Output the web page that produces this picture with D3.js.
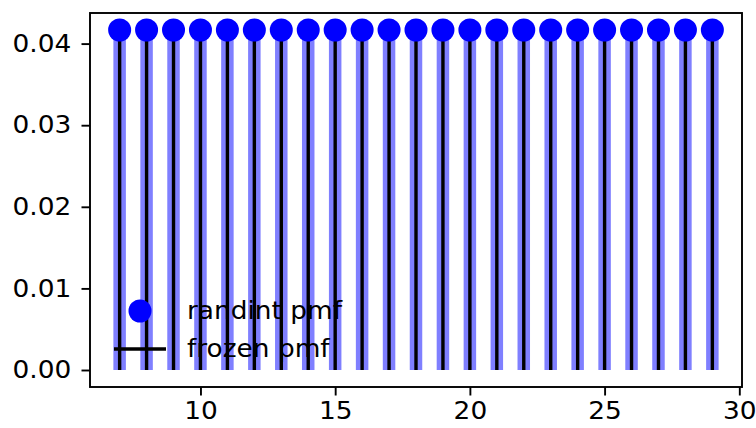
<!DOCTYPE html>
<html>
<head>
<meta charset="utf-8">
<script src="https://cdn.jsdelivr.net/npm/d3@7"></script>
<style>
  html, body { margin: 0; padding: 0; background: #fff; }
  svg { display: block; font-family: "DejaVu Sans", sans-serif; }
</style>
</head>
<body>
<svg id="chart" width="756" height="428"></svg>
<script>
// ---- data ----
const xValues = [7, 8, 9, 10, 11, 12, 13, 14, 15, 16, 17, 18, 19, 20, 21, 22, 23, 24, 25, 26, 27, 28, 29];
const pmfValues = [0.041667, 0.041667, 0.041667, 0.041667, 0.041667, 0.041667, 0.041667, 0.041667,
  0.041667, 0.041667, 0.041667, 0.041667, 0.041667, 0.041667, 0.041667, 0.041667, 0.041667,
  0.041667, 0.041667, 0.041667, 0.041667, 0.041667, 0.041667];
const frozenValues = pmfValues.slice();
const xTicks = [10, 15, 20, 25, 30];
const yTicks = [0.00, 0.01, 0.02, 0.03, 0.04];
const legendLabels = ["randint pmf", "frozen pmf"];

// ---- layout ----
const mLeft = 90, mRight = 742, mTop = 13, mBottom = 387;
const fontSize = 24;
const stretch = 1.1;

const svg = d3.select("#chart");

const xExt = d3.extent(xValues);
const xPad = (xExt[1] - xExt[0]) * 0.05;
const x = d3.scaleLinear().domain([xExt[0] - xPad, xExt[1] + xPad]).range([mLeft, mRight]);
const yMax = d3.max(pmfValues);
const yPad = yMax * 0.05;
const y = d3.scaleLinear().domain([0 - yPad, yMax + yPad]).range([mBottom, mTop]);

const idx = d3.range(xValues.length);

// blue wide vlines (alpha 0.5)
svg.append("g").selectAll("line").data(idx).join("line")
  .attr("x1", i => x(xValues[i])).attr("x2", i => x(xValues[i]))
  .attr("y1", y(0)).attr("y2", i => y(pmfValues[i]))
  .attr("stroke", "#0000ff").attr("stroke-opacity", 0.5).attr("stroke-width", 12.5);

// black frozen vlines
svg.append("g").selectAll("line").data(idx).join("line")
  .attr("x1", i => x(xValues[i])).attr("x2", i => x(xValues[i]))
  .attr("y1", y(0)).attr("y2", i => y(frozenValues[i]))
  .attr("stroke", "#000").attr("stroke-width", 3.4);

// blue dots
svg.append("g").selectAll("circle").data(idx).join("circle")
  .attr("cx", i => x(xValues[i])).attr("cy", i => y(pmfValues[i]))
  .attr("r", 11.5).attr("fill", "#0000ff");

// axes
const xAxis = d3.axisBottom(x).tickValues(xTicks).tickFormat(d3.format("d")).tickSize(8.5).tickPadding(6);
const yAxis = d3.axisLeft(y).tickValues(yTicks).tickFormat(d3.format(".2f")).tickSize(8.5).tickPadding(8.5);

const gx = svg.append("g").attr("transform", `translate(0,${mBottom})`).call(xAxis);
const gy = svg.append("g").attr("transform", `translate(${mLeft},0)`).call(yAxis);
[gx, gy].forEach(g => {
  g.select(".domain").remove();
  g.selectAll(".tick line").attr("stroke", "#000").attr("stroke-width", 1.9);
  g.selectAll(".tick text").attr("fill", "#000").attr("font-size", fontSize)
    .attr("font-family", "DejaVu Sans")
    .attr("transform", `scale(${stretch},1)`);
});

// frame
svg.append("rect").attr("x", mLeft).attr("y", mTop)
  .attr("width", mRight - mLeft).attr("height", mBottom - mTop)
  .attr("fill", "none").attr("stroke", "#000").attr("stroke-width", 1.9);

// legend (no frame)
const lg = svg.append("g");
lg.append("circle").attr("cx", 140).attr("cy", 311).attr("r", 11.5).attr("fill", "#0000ff");
lg.append("line").attr("x1", 114).attr("x2", 166).attr("y1", 349).attr("y2", 349)
  .attr("stroke", "#000").attr("stroke-width", 3.4);
lg.selectAll("text").data(legendLabels).join("text")
  .attr("transform", (d, i) => `translate(187,${311 + i * 38}) scale(${stretch},1)`)
  .attr("dy", "0.32em")
  .attr("font-size", fontSize).attr("fill", "#000")
  .text(d => d);
</script>
</body>
</html>
